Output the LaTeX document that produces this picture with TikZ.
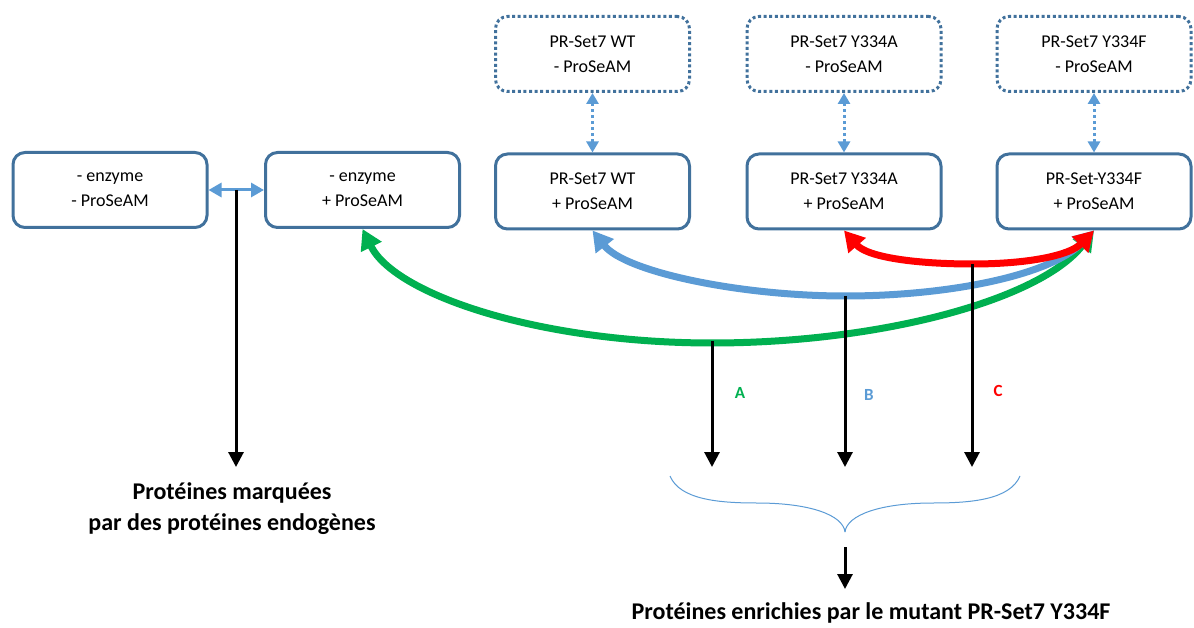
\documentclass[tikz,border=0pt]{standalone}
\usepackage{fontspec}
\setmainfont{Carlito}
\usetikzlibrary{arrows.meta}
\definecolor{boxblue}{HTML}{41719C}
\definecolor{lblue}{HTML}{5B9BD5}
\definecolor{mygreen}{HTML}{00B050}
\definecolor{myred}{HTML}{FF0000}
\begin{document}
\begin{tikzpicture}[x=1pt,y=-1pt,
  boxtext/.style={font=\fontsize{18}{25}\selectfont, align=center, inner sep=0pt},
  solidbox/.style={boxtext, draw=boxblue, line width=3pt, rounded corners=12pt,
    minimum width=194pt, minimum height=75pt},
  dotbox/.style={solidbox, dash pattern=on 3pt off 2.6pt},
  dotlink/.style={draw=lblue, line width=3pt, dash pattern=on 3pt off 3pt,
    {Triangle[length=11pt,width=12pt]}-{Triangle[length=11pt,width=12pt]}},
  bluelink/.style={draw=lblue, line width=3pt,
    {Triangle[length=13pt,width=14pt]}-{Triangle[length=13pt,width=14pt]}},
  curvearrow/.style={line width=7pt,
    {Triangle[length=20pt,width=22pt]}-{Triangle[length=20pt,width=22pt]}},
  blackarrow/.style={draw=black, line width=3pt, -{Triangle[length=15pt,width=15pt]}},
  biglabel/.style={font=\fontsize{24}{31}\selectfont\bfseries, align=center, inner sep=0pt},
  letter/.style={font=\fontsize{17}{18}\selectfont\bfseries, inner sep=0pt},
  brace/.style={draw=lblue, line width=1pt}
]
\useasboundingbox (0,0) rectangle (1194,628);

% boxes
\node[solidbox] (b1) at (110,190) {- enzyme\\- ProSeAM};
\node[solidbox] (b2) at (362.5,190) {- enzyme\\+ ProSeAM};
\node[solidbox] (b3) at (592.5,191.5) {PR-Set7 WT\\+ ProSeAM};
\node[solidbox] (b4) at (844,191.5) {PR-Set7 Y334A\\+ ProSeAM};
\node[solidbox] (b5) at (1094,191.5) {PR-Set-Y334F\\+ ProSeAM};
\node[dotbox] (d1) at (592.5,54) {PR-Set7 WT\\- ProSeAM};
\node[dotbox] (d2) at (844,54) {PR-Set7 Y334A\\- ProSeAM};
\node[dotbox] (d3) at (1094,54) {PR-Set7 Y334F\\- ProSeAM};

% dotted links
\draw[dotlink] (d1) -- (b3);
\draw[dotlink] (d2) -- (b4);
\draw[dotlink] (d3) -- (b5);

% left link
\draw[bluelink] (b1) -- (b2);
\coordinate (m0) at (236,190);
\coordinate (t0) at (236,467);

% curves
\coordinate (gA) at (712,343);
\coordinate (bB) at (845,296);
\coordinate (rC) at (972,264);
\draw[curvearrow, mygreen] (b2.south) .. controls (395,295) and (540,343) .. (gA)
   .. controls (880,343) and (1040,300) .. (b5.south);
\draw[curvearrow, lblue] (b3.south) .. controls (625,272) and (740,296) .. (bB)
   .. controls (950,296) and (1050,275) .. (b5.south);
\draw[curvearrow, myred] (b4.south) .. controls (868,258) and (920,264) .. (rC)
   .. controls (1030,264) and (1070,255) .. (b5.south);

% black arrows
\coordinate (tA) at (712,467);
\coordinate (tB) at (845,467);
\coordinate (tC) at (972,467);
\draw[blackarrow] (m0) -- (t0);
\draw[blackarrow] ([yshift=2pt]gA) -- (tA);
\draw[blackarrow] (bB) -- (tB);
\draw[blackarrow] (rC) -- (tC);

% letters
\node[letter, text=mygreen] (la) at (740,393) {A};
\node[letter, text=lblue] (lb) at (869,395) {B};
\node[letter, text=myred] (lc) at (998,391) {C};

% brace
\coordinate (bl) at (670,476);
\coordinate (br) at (1020,476);
\coordinate (bt) at (845,532);
\draw[brace] (bl) .. controls (680,500) and (720,503) .. (757,503)
   .. controls (810,503) and (843,515) .. (bt);
\draw[brace] (br) .. controls (1010,500) and (970,503) .. (933,503)
   .. controls (880,503) and (847,515) .. (bt);

% lower arrow
\coordinate (s1) at (845,547);
\coordinate (s2) at (845,589);
\draw[blackarrow] (s1) -- (s2);

% labels
\node[biglabel] (endo) at (232,509) {Protéines marquées\\par des protéines endogènes};
\node[biglabel] (enr) at (871,613) {Protéines enrichies par le mutant PR-Set7 Y334F};
\end{tikzpicture}
\end{document}
